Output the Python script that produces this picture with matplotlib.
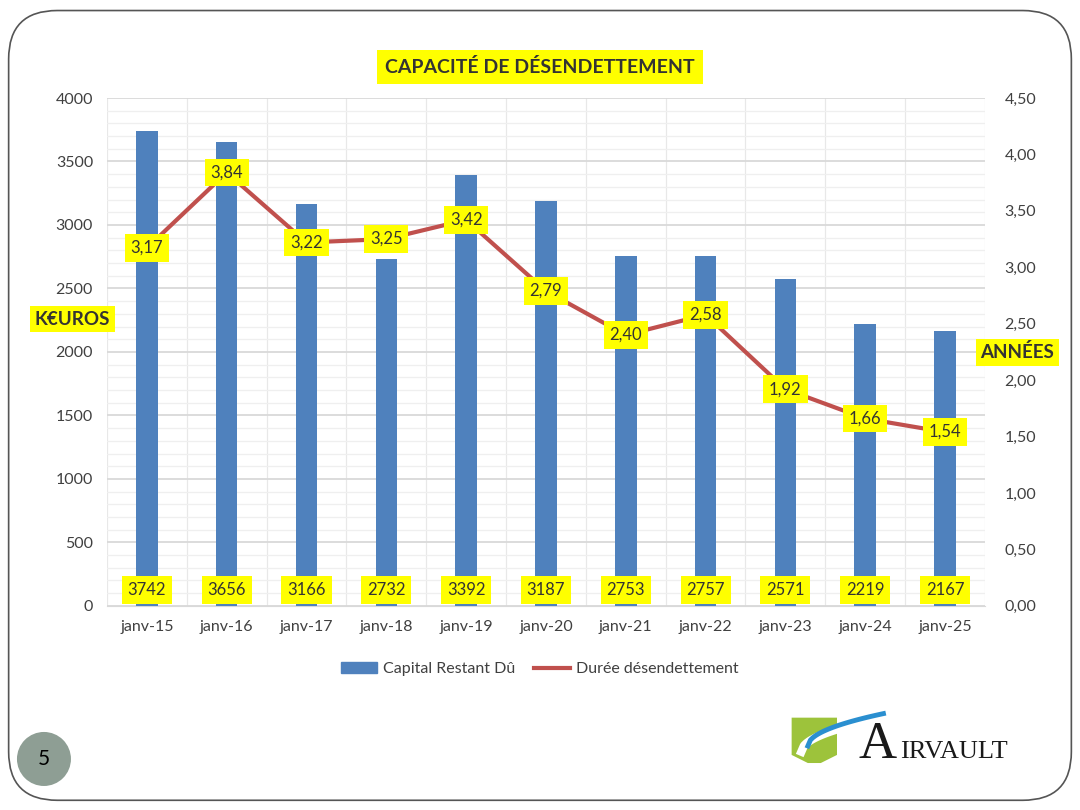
import matplotlib.pyplot as plt
import numpy as np
from matplotlib.patches import FancyBboxPatch, Ellipse, Polygon
from matplotlib.lines import Line2D
from matplotlib.patches import Patch

plt.rcParams['font.family'] = ['Lato', 'DejaVu Sans']

dates = ['janv-15', 'janv-16', 'janv-17', 'janv-18', 'janv-19', 'janv-20',
         'janv-21', 'janv-22', 'janv-23', 'janv-24', 'janv-25']
capital = [3742, 3656, 3166, 2732, 3392, 3187, 2753, 2757, 2571, 2219, 2167]
duree = [3.17, 3.84, 3.22, 3.25, 3.42, 2.79, 2.40, 2.58, 1.92, 1.66, 1.54]

bar_color = '#4F81BD'
line_color = '#C0504D'
yellow = '#FFFF00'
txt_color = '#404040'

fig = plt.figure(figsize=(10.8, 8.1), dpi=100)

# slide frame
frame = FancyBboxPatch((0.008, 0.012), 0.984, 0.975, boxstyle='round,pad=0,rounding_size=0.045',
                       transform=fig.transFigure, fill=False, ec='#555555', lw=1.2,
                       mutation_aspect=1.33)
fig.patches.append(frame)

ax = fig.add_axes([0.099, 0.252, 0.813, 0.627])
ax2 = ax.twinx()

x = np.arange(len(dates))
ax.bar(x, capital, width=0.27, color=bar_color, zorder=3)
ax.set_xlim(-0.5, len(dates) - 0.5)
ax.set_ylim(0, 4000)
ax.set_yticks(np.arange(0, 4001, 500))
ax.set_yticks(np.arange(0, 4001, 100), minor=True)
ax.set_xticks(x)
ax.set_xticklabels(dates)
ax.set_xticks(np.arange(-0.5, len(dates), 1), minor=True)
ax.grid(which='major', axis='y', color='#D9D9D9', lw=1.3, zorder=0)
ax.grid(which='minor', axis='y', color='#EFEFEF', lw=0.9, zorder=0)
ax.grid(which='minor', axis='x', color='#E8E8E8', lw=0.9, zorder=0)
ax.tick_params(which='both', length=0)
ax.tick_params(axis='both', labelsize=11.5, labelcolor=txt_color, pad=10)
for s in ax.spines.values():
    s.set_visible(False)
ax.spines['bottom'].set_visible(True)
ax.spines['bottom'].set_color('#D9D9D9')

ax2.plot(x, duree, color=line_color, lw=3, zorder=4)
ax2.set_ylim(0, 4.5)
ax2.set_yticks(np.arange(0, 4.51, 0.5))
ax2.set_yticklabels([f'{v:.2f}'.replace('.', ',') for v in np.arange(0, 4.51, 0.5)])
ax2.tick_params(length=0, labelsize=11.5, labelcolor=txt_color, pad=14)
for s in ax2.spines.values():
    s.set_visible(False)

box = dict(boxstyle='square,pad=0.35', fc=yellow, ec='none')
for xi, v in zip(x, capital):
    ax.text(xi, 125, str(v), ha='center', va='center', fontsize=12, color='#333333',
            bbox=box, zorder=5)
for xi, v in zip(x, duree):
    ax2.text(xi, v, f'{v:.2f}'.replace('.', ','), ha='center', va='center', fontsize=12,
             color='#333333', bbox=box, zorder=5)

fig.text(0.5, 0.917, 'CAPACITÉ DE DÉSENDETTEMENT', ha='center', va='center', fontsize=14,
         fontweight='bold', color='#333333',
         bbox=dict(boxstyle='square,pad=0.4', fc=yellow, ec='none'))
fig.text(0.067, 0.606, 'K€UROS', ha='center', va='center', fontsize=13.5, fontweight='bold',
         color='#333333', bbox=dict(boxstyle='square,pad=0.25', fc=yellow, ec='none'))
fig.text(0.942, 0.565, 'ANNÉES', ha='center', va='center', fontsize=13.5, fontweight='bold',
         color='#333333', bbox=dict(boxstyle='square,pad=0.25', fc=yellow, ec='none'))

handles = [Patch(color=bar_color), Line2D([0], [0], color=line_color, lw=3)]
fig.legend(handles, ['Capital Restant Dû', 'Durée désendettement'], loc='center',
           bbox_to_anchor=(0.5, 0.174), ncol=2, frameon=False, fontsize=11.5,
           labelcolor=txt_color, handlelength=2.2, columnspacing=1.2, handletextpad=0.4)

# slide number
fig.patches.append(Ellipse((0.0407, 0.063), 0.05, 0.0667, transform=fig.transFigure,
                           fc='#8E9E94', ec='none'))
fig.text(0.0407, 0.063, '5', ha='center', va='center', fontsize=15, color='black')

# logo
fig.patches.append(Polygon([(0.733, 0.114), (0.775, 0.114), (0.775, 0.068), (0.76, 0.058),
                            (0.748, 0.058), (0.733, 0.068)], closed=True,
                           transform=fig.transFigure, fc='#9DC33B', ec='none'))
t = np.linspace(0, 1, 30)
sx = 0.742 + 0.07 * t
sy = 0.072 + 0.04 * np.sqrt(t)
fig.lines.append(Line2D(sx, sy, transform=fig.transFigure, color='white', lw=6))
fig.lines.append(Line2D(sx + 0.006, sy + 0.007, transform=fig.transFigure, color='#2A8FD0', lw=3.5))
fig.text(0.795, 0.080, 'A', ha='left', va='center', fontsize=38, family='Liberation Serif',
         color='#1a1a1a')
fig.text(0.833, 0.072, 'IRVAULT', ha='left', va='center', fontsize=19, family='Liberation Serif',
         color='#1a1a1a')

fig.savefig('out.png', dpi=100)
